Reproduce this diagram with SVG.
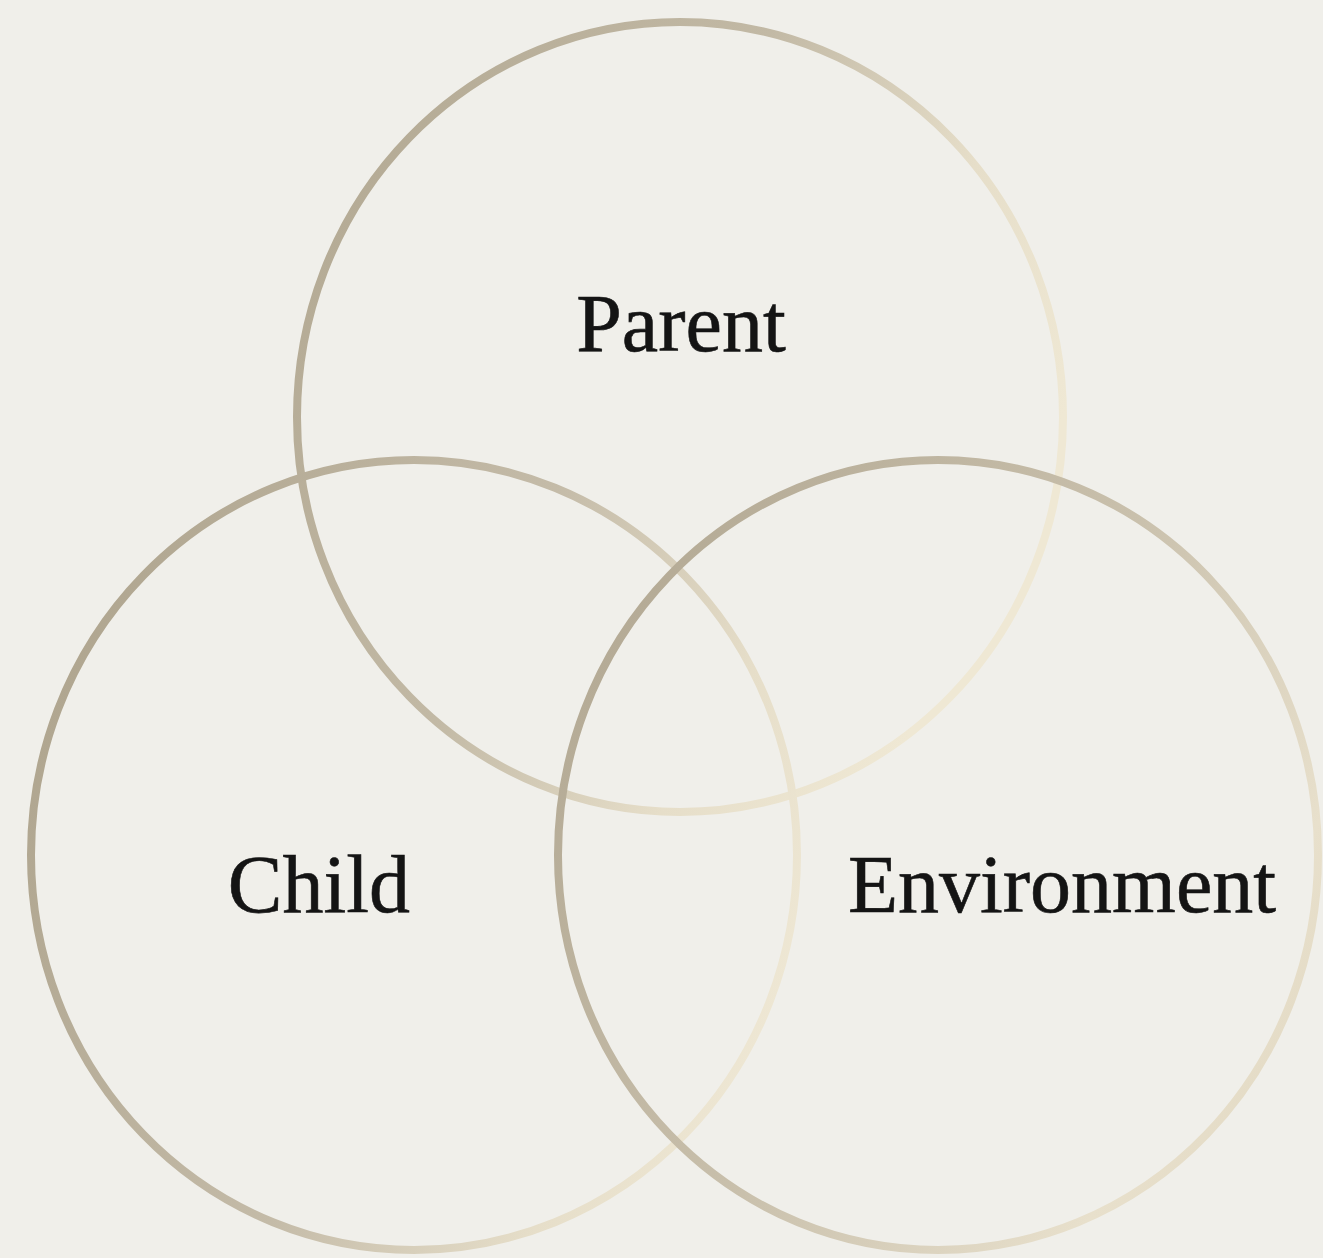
<svg xmlns="http://www.w3.org/2000/svg" width="1323" height="1258" viewBox="0 0 1323 1258">
<style>
.ring{fill:none;stroke-width:8}
.lbl{font-family:"Liberation Serif","Times New Roman",serif;font-size:82px;fill:#141414;stroke:#141414;stroke-width:0.6;text-anchor:middle}
</style>
<defs>
<linearGradient id="g1" x1="0" y1="0" x2="1" y2="0.5">
<stop offset="0" stop-color="#b0a690"/>
<stop offset="0.5" stop-color="#c2b9a5"/>
<stop offset="0.78" stop-color="#e6dec9"/>
<stop offset="1" stop-color="#efe8d4"/>
</linearGradient>
<linearGradient id="g2" x1="0" y1="0.3" x2="1" y2="0.7">
<stop offset="0" stop-color="#afa58f"/>
<stop offset="0.5" stop-color="#c4bba8"/>
<stop offset="0.8" stop-color="#e6dec9"/>
<stop offset="1" stop-color="#efe8d5"/>
</linearGradient>
<linearGradient id="g3" x1="0" y1="0.2" x2="1" y2="0.8">
<stop offset="0" stop-color="#b2a893"/>
<stop offset="0.5" stop-color="#c9c0ac"/>
<stop offset="0.85" stop-color="#e8e0cc"/>
<stop offset="1" stop-color="#e2d9c3"/>
</linearGradient>
</defs>
<rect width="1323" height="1258" fill="#f0efea"/>
<g id="parent">
<ellipse class="ring" cx="680" cy="417" rx="383" ry="395" stroke="url(#g1)"/>
<text class="lbl" x="681" y="351">Parent</text>
</g>
<g id="child">
<ellipse class="ring" cx="414" cy="855" rx="383" ry="395" stroke="url(#g2)"/>
<text class="lbl" x="319" y="912">Child</text>
</g>
<g id="environment">
<ellipse class="ring" cx="938" cy="855" rx="380" ry="395" stroke="url(#g3)"/>
<text class="lbl" x="1062" y="912">Environment</text>
</g>
<g id="connectors"/>
</svg>
